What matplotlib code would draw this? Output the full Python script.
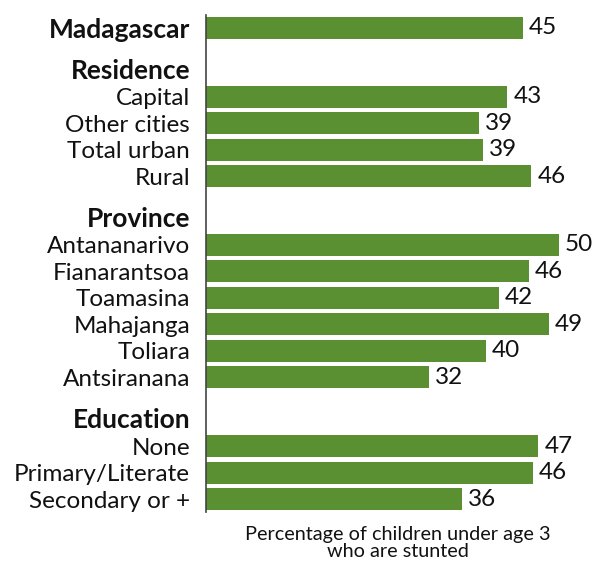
import matplotlib
matplotlib.use("Agg")
import matplotlib.pyplot as plt

plt.rcParams['font.family'] = ['Lato', 'DejaVu Sans']

national_label = "Madagascar"
national_value = 45.0

group_names = ["Residence", "Province", "Education"]
residence_labels = ["Capital", "Other cities", "Total urban", "Rural"]
residence_values = [42.8, 38.8, 39.4, 46.2]
province_labels = ["Antananarivo", "Fianarantsoa", "Toamasina", "Mahajanga", "Toliara", "Antsiranana"]
province_values = [50.1, 45.9, 41.6, 48.7, 39.8, 31.7]
education_labels = ["None", "Primary/Literate", "Secondary or +"]
education_values = [47.2, 46.4, 36.4]

xlabel = "Percentage of children under age 3\nwho are stunted"
bar_color = "#5B9032"

W, H = 595, 561
fig = plt.figure(figsize=(W / 100, H / 100), dpi=100)

ax_left, ax_right = 206, 595
ax_top, ax_bottom = 15, 512
ax = fig.add_axes([ax_left / W, 1 - ax_bottom / H, (ax_right - ax_left) / W, (ax_bottom - ax_top) / H])

# build rows: (label, value or None, bold)
rows = [(national_label, national_value, True)]
for gname, labs, vals in zip(group_names,
                             [residence_labels, province_labels, education_labels],
                             [residence_values, province_values, education_values]):
    rows.append((gname, None, True))
    for l, v in zip(labs, vals):
        rows.append((l, v, False))

ypos = []
y = 0.0
prev_header = False
for i, (lab, val, bold) in enumerate(rows):
    if i > 0:
        if val is None:
            y += 1.55
        elif prev_header:
            y += 1.05
        else:
            y += 1.0
    ypos.append(y)
    prev_header = (val is None)

bar_h = 0.83
fs = 17.5
fs_bold = 19
for (lab, val, bold), yy in zip(rows, ypos):
    if val is not None:
        ax.barh(yy, val, height=bar_h, color=bar_color, left=0)
        ax.text(val + 0.85, yy, f"{val:.0f}", va='center', ha='left', fontsize=fs, color='#111111')

ax.set_yticks(ypos)
ax.set_yticklabels([r[0] for r in rows], fontsize=fs, color='#111111')
for tl, r in zip(ax.get_yticklabels(), rows):
    if r[2]:
        tl.set_fontweight('bold')
        tl.set_fontsize(fs_bold)
ax.tick_params(axis='y', length=0, pad=11.5)
ax.set_ylim(ypos[-1] + 0.49, -0.49)
ax.set_xlim(0, (ax_right - ax_left) / 7.04)
ax.set_xticks([])
for s in ['top', 'right', 'bottom']:
    ax.spines[s].set_visible(False)
ax.spines['left'].set_color('#444444')
ax.spines['left'].set_linewidth(1.2)

fig.text(398 / W, 1 - 526 / H, xlabel, ha='center', va='top', fontsize=14.3, linespacing=1.0, color='#111111')

fig.savefig("out.png", dpi=100)
